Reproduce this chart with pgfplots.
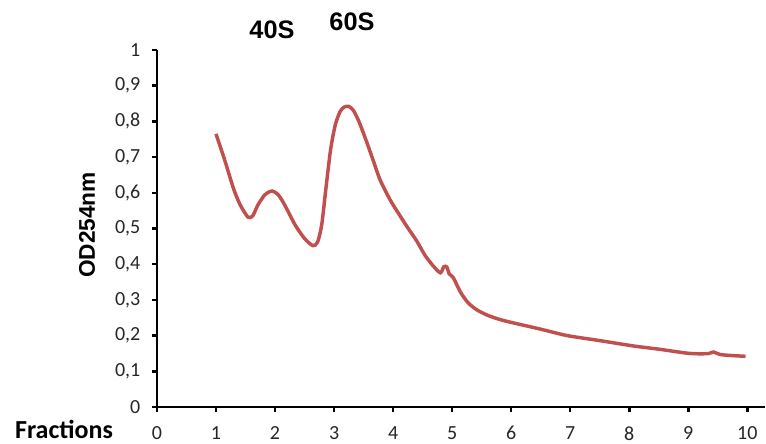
\documentclass[border=0pt]{standalone}
\usepackage{pgfplots}
\pgfplotsset{compat=1.18}
\usepackage{fontspec}
\setmainfont{Carlito}
\newfontfamily\arialb{Liberation Sans}
\definecolor{exred}{RGB}{192,80,77}
\begin{document}
\begin{tikzpicture}
\path[use as bounding box] (0,0) rectangle (574.5pt,332.25pt);
\begin{axis}[
  at={(117.75pt,27pt)}, anchor=south west,
  scale only axis, width=456pt, height=267.75pt,
  xmin=0, xmax=10.3, ymin=0, ymax=1,
  axis lines=left, axis line style={-, line width=1.9pt, black},
  xtick={0,1,...,10}, ytick={0,0.1,...,1.0},
  tick align=outside, major tick length=4pt,
  tick style={line width=1.9pt, black},
  /pgf/number format/assume math mode=true,
  /pgf/number format/use comma,
  /pgf/number format/fixed,
  ticklabel style={font=\fontsize{15}{17}\selectfont, text=black!85},
  xticklabel style={yshift=-7pt},
  yticklabel style={xshift=-5pt},
  clip=false,
]
\addplot[exred, line width=2.6pt, smooth, tension=0.45] coordinates {
(1.00,0.765) (1.15,0.690) (1.30,0.610) (1.41,0.566) (1.54,0.532) (1.62,0.535)
(1.71,0.566) (1.83,0.595) (1.95,0.605) (2.05,0.595) (2.15,0.570) (2.34,0.510)
(2.50,0.472) (2.64,0.452) (2.72,0.462) (2.79,0.510) (2.86,0.610) (2.94,0.720)
(3.02,0.790) (3.10,0.827) (3.17,0.840) (3.25,0.842) (3.33,0.830) (3.42,0.800)
(3.54,0.748) (3.66,0.692) (3.78,0.636) (3.95,0.580) (4.10,0.540) (4.24,0.504)
(4.40,0.465) (4.54,0.425) (4.68,0.395) (4.80,0.376) (4.86,0.393) (4.91,0.392)
(4.95,0.373) (5.02,0.362) (5.14,0.322) (5.27,0.292) (5.42,0.272) (5.60,0.257)
(5.81,0.245) (6.00,0.237) (6.50,0.218) (6.95,0.200) (7.50,0.186) (8.07,0.171)
(8.50,0.162) (8.97,0.151) (9.20,0.149) (9.35,0.150) (9.43,0.154) (9.54,0.147)
(9.75,0.144) (9.97,0.142)
};
\end{axis}
\node[font=\arialb\bfseries\fontsize{19}{22}\selectfont] at (204pt,309.75pt) {40S};
\node[font=\arialb\bfseries\fontsize{19}{22}\selectfont] at (264pt,315.75pt) {60S};
\node[font=\arialb\bfseries\fontsize{17}{20}\selectfont, rotate=90] at (65.25pt,163.5pt) {OD254nm};
\node[font=\bfseries\fontsize{19.5}{22}\selectfont, anchor=base, inner sep=0pt] at (48pt,3.75pt) {Fractions};
\end{tikzpicture}
\end{document}
